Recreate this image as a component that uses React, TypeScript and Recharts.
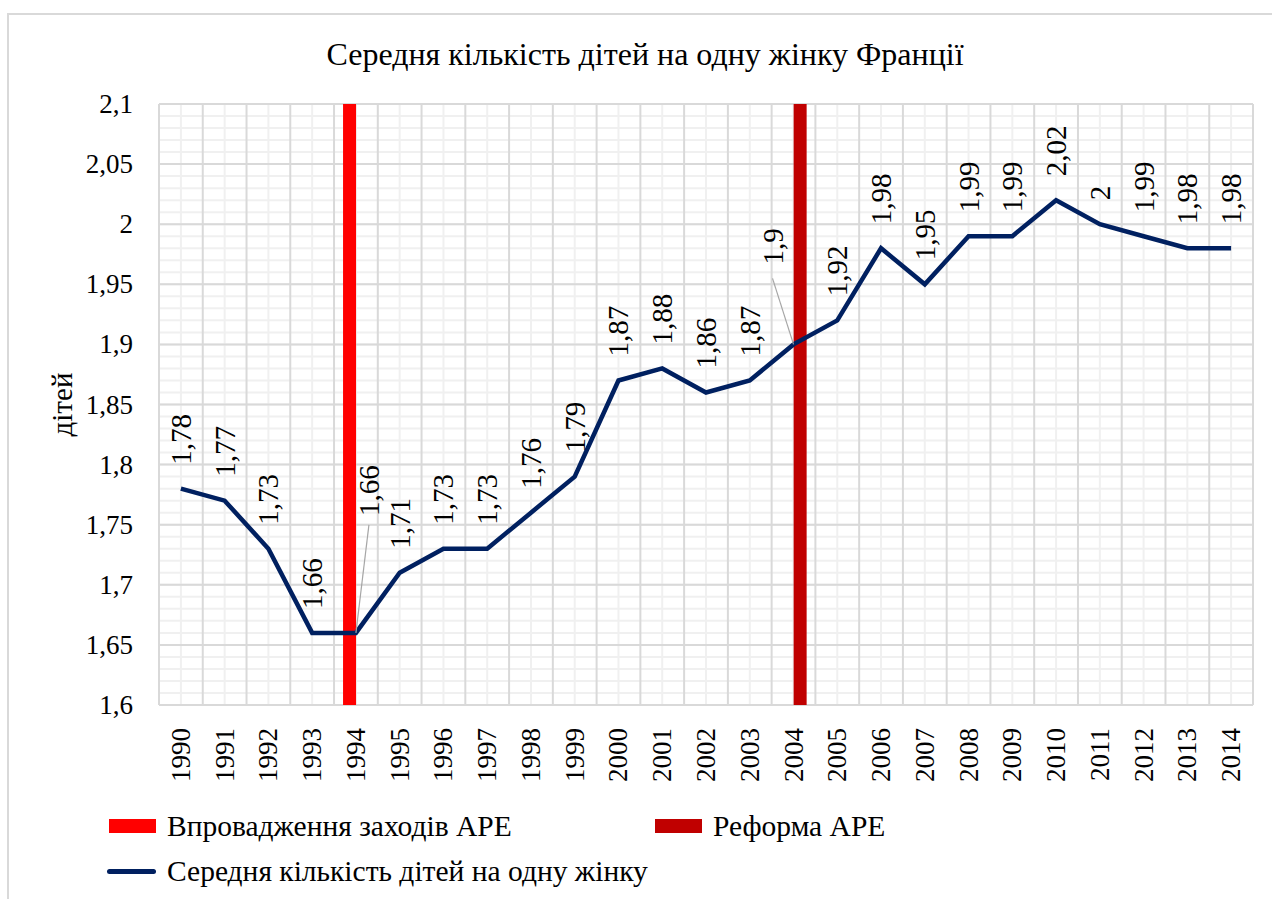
import {
  ComposedChart,
  Line,
  Bar,
  XAxis,
  YAxis,
  CartesianGrid,
  LabelList,
} from 'recharts';

// Chart values
const years = [
  '1990', '1991', '1992', '1993', '1994', '1995', '1996', '1997', '1998', '1999',
  '2000', '2001', '2002', '2003', '2004', '2005', '2006', '2007', '2008', '2009',
  '2010', '2011', '2012', '2013', '2014',
];
const birthRate = [
  1.78, 1.77, 1.73, 1.66, 1.66, 1.71, 1.73, 1.73, 1.76, 1.79,
  1.87, 1.88, 1.86, 1.87, 1.9, 1.92, 1.98, 1.95, 1.99, 1.99,
  2.02, 2.0, 1.99, 1.98, 1.98,
];
// full-height markers for the policy events
const apeIntro = years.map((y) => (y === '1994' ? 2.1 : null));
const apeReform = years.map((y) => (y === '2004' ? 2.1 : null));

const yTicks = [1.6, 1.65, 1.7, 1.75, 1.8, 1.85, 1.9, 1.95, 2, 2.05, 2.1];
const Y_MIN = 1.6;
const Y_MAX = 2.1;

const chartData = years.map((year, i) => ({
  year,
  rate: birthRate[i],
  intro: apeIntro[i],
  reform: apeReform[i],
}));

const FONT = '"Liberation Serif", serif';
const TICK_SIZE = 27;
const LABEL_SIZE = 29;
const LEGEND_SIZE = 29.5;
const TITLE_SIZE = 32;

const W = 1272;
const H = 899;

// labels that Excel moved away from the point (with leader lines)
const labelShift: Record<number, { dx: number; dy: number; lead: number }> = {
  4: { dx: 13, dy: 117, lead: 108 },
  14: { dx: -21, dy: 80, lead: 66 },
};

const fmt = (v: number) => String(v).replace('.', ',');

const RateLabel = (props: any) => {
  const { x, y, value, index } = props;
  const s = labelShift[index];
  const lx = s ? x + s.dx : x;
  const ly = s ? y - s.dy : y - 24;
  return (
    <g>
      {s && (
        <line x1={x} y1={y} x2={x + s.dx} y2={y - s.lead} stroke="#a6a6a6" strokeWidth={1.2} />
      )}
      <text
        x={lx}
        y={ly}
        transform={`rotate(-90, ${lx}, ${ly})`}
        textAnchor="start"
        dominantBaseline="central"
        fontFamily={FONT}
        fontSize={LABEL_SIZE}
        fill="#000"
      >
        {fmt(value)}
      </text>
    </g>
  );
};

const YearTick = ({ x, y, payload }: any) => (
  <text
    x={x}
    y={y + 15}
    transform={`rotate(-90, ${x}, ${y + 15})`}
    textAnchor="end"
    dominantBaseline="central"
    fontFamily={FONT}
    fontSize={TICK_SIZE}
    fill="#000"
  >
    {payload.value}
  </text>
);

const YTick = ({ x, y, payload }: any) => (
  <text
    x={x}
    y={y}
    textAnchor="end"
    dominantBaseline="central"
    fontFamily={FONT}
    fontSize={TICK_SIZE}
    fill="#000"
  >
    {fmt(payload.value)}
  </text>
);

// grid: major lines on category boundaries / every 0.05, minor at band centres / every 0.01
const vLines = (offset: any, centres: boolean) => {
  const n = years.length;
  const step = offset.width / n;
  const out: number[] = [];
  if (centres) for (let i = 0; i < n; i++) out.push(offset.left + (i + 0.5) * step);
  else for (let i = 0; i <= n; i++) out.push(offset.left + i * step);
  return out;
};
const hLines = (offset: any, every: number) => {
  const out: number[] = [];
  const count = Math.round((Y_MAX - Y_MIN) / every);
  for (let i = 0; i <= count; i++) out.push(offset.top + offset.height - (i / count) * offset.height);
  return out;
};

const minorV = ({ offset }: any) => vLines(offset, true);
const majorV = ({ offset }: any) => vLines(offset, false);
const minorH = ({ offset }: any) => hLines(offset, 0.01);
const majorH = ({ offset }: any) => hLines(offset, 0.05);

const legendItems = [
  { name: 'Впровадження заходів АРЕ', color: '#FF0000', kind: 'bar', left: 109, top: 803 },
  { name: 'Реформа АРЕ', color: '#C00000', kind: 'bar', left: 655, top: 803 },
  { name: 'Середня кількість дітей на одну жінку', color: '#002060', kind: 'line', left: 107, top: 848 },
];

export default function App() {
  return (
    <div
      style={{
        position: 'absolute',
        left: 0,
        top: 0,
        width: W,
        height: H,
        overflow: 'hidden',
        background: '#fff',
        fontFamily: FONT,
      }}
    >
      <div
        style={{
          position: 'absolute',
          left: 7,
          top: 13,
          width: 1400,
          height: 1000,
          border: '2px solid #d9d9d9',
        }}
      />
      <div
        style={{
          position: 'absolute',
          top: 34,
          left: 0,
          width: 1290,
          textAlign: 'center',
          fontSize: TITLE_SIZE,
          lineHeight: '40px',
          color: '#000',
        }}
      >
        Середня кількість дітей на одну жінку Франції
      </div>

      <div style={{ position: 'absolute', left: 0, top: 0 }}>
        <ComposedChart
          width={W}
          height={H}
          data={chartData}
          margin={{ top: 104, right: 19, left: 0, bottom: 104 }}
          barGap={0}
        >
          <CartesianGrid
            stroke="#f0f0f0"
            strokeWidth={2}
            verticalCoordinatesGenerator={minorV}
            horizontalCoordinatesGenerator={minorH}
          />
          <CartesianGrid
            stroke="#d9d9d9"
            strokeWidth={2}
            verticalCoordinatesGenerator={majorV}
            horizontalCoordinatesGenerator={majorH}
          />
          <XAxis
            dataKey="year"
            interval={0}
            height={90}
            axisLine={false}
            tickLine={false}
            tick={<YearTick />}
          />
          <YAxis
            type="number"
            domain={[Y_MIN, Y_MAX]}
            ticks={yTicks}
            width={159}
            axisLine={false}
            tickLine={false}
            tickSize={0}
            tickMargin={26}
            tick={<YTick />}
            label={{
              content: ({ viewBox }: any) => {
                const cy = viewBox.y + viewBox.height / 2;
                return (
                  <text
                    x={62}
                    y={cy}
                    transform={`rotate(-90, 62, ${cy})`}
                    textAnchor="middle"
                    dominantBaseline="central"
                    fontFamily={FONT}
                    fontSize={LABEL_SIZE}
                    fill="#000"
                  >
                    дітей
                  </text>
                );
              },
            }}
          />
          <Bar dataKey="intro" fill="#FF0000" barSize={13} isAnimationActive={false} />
          <Bar dataKey="reform" fill="#C00000" barSize={13} isAnimationActive={false} />
          <Line
            dataKey="rate"
            stroke="#002060"
            strokeWidth={4.5}
            dot={false}
            activeDot={false}
            isAnimationActive={false}
          >
            <LabelList dataKey="rate" content={<RateLabel />} />
          </Line>
        </ComposedChart>
      </div>

      {legendItems.map((item) => (
        <div
          key={item.name}
          style={{
            position: 'absolute',
            left: item.left,
            top: item.top,
            display: 'flex',
            alignItems: 'center',
            fontSize: LEGEND_SIZE,
            color: '#000',
            whiteSpace: 'nowrap',
            lineHeight: '46px',
          }}
        >
          {item.kind === 'bar' ? (
            <span style={{ width: 47, height: 14, background: item.color, marginRight: 11 }} />
          ) : (
            <span
              style={{
                width: 49,
                height: 5,
                borderRadius: 3,
                background: item.color,
                marginRight: 11,
              }}
            />
          )}
          {item.name}
        </div>
      ))}
    </div>
  );
}
